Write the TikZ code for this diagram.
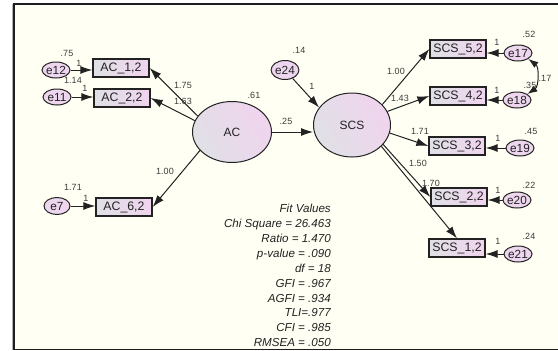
\documentclass[tikz,border=0pt]{standalone}
\usepackage{fontspec}
\setmainfont{Liberation Sans}
\usetikzlibrary{arrows.meta,shapes.geometric}

\definecolor{frameC}{HTML}{1E1E1E}
\definecolor{paper}{HTML}{FFFFF4}
\definecolor{ink}{HTML}{222222}
\definecolor{numC}{HTML}{3C3C3C}
\definecolor{greyF}{HTML}{E0E0E6}
\definecolor{pinkF}{HTML}{F0D4EE}
\definecolor{errF}{HTML}{EDD6EE}

\tikzset{
  obs/.style={draw=ink, line width=1.3pt, minimum width=56pt, minimum height=18pt,
    inner sep=0pt, left color=greyF, right color=pinkF, text=ink,
    font=\fontsize{12.3}{12.3}\selectfont},
  lat/.style={ellipse, draw=ink, line width=1pt, inner sep=0pt,
    bottom color=greyF, top color=pinkF, shading angle=-60, text=ink,
    font=\fontsize{12}{12}\selectfont},
  err/.style={ellipse, draw=ink, line width=1pt, minimum width=28pt,
    minimum height=16pt, inner sep=0pt, fill=errF, text=ink,
    font=\fontsize{11.8}{11.8}\selectfont},
  num/.style={font=\fontsize{9}{9}\selectfont, text=numC, inner sep=0pt},
  reg/.style={draw=ink, line width=1pt, -{Latex[length=12pt,width=8pt]}},
  cov/.style={draw=ink, line width=1pt, {Latex[length=10pt,width=7pt]}-{Latex[length=10pt,width=7pt]}},
}

\begin{document}
\begin{tikzpicture}[x=1pt, y=-1pt]
  \useasboundingbox (0,0) rectangle (558,351);
  \clip (0,0) rectangle (558,351);
  \fill[white] (0,0) rectangle (558,351);
  % output window
  \draw[gray!60, line width=1pt] (12.8,4) -- (12.8,349.5);
  \draw[frameC, line width=1.5pt, fill=paper] (14,4) rectangle (600,349.5);

  % latent variables
  \node[lat, minimum width=79pt, minimum height=61pt] (AC) at (232,132) {AC};
  \node[lat, minimum width=77pt, minimum height=64pt] (SCS) at (352,125) {SCS};

  % observed indicators
  \node[obs] (AC12) at (121,68) {AC\_1,2};
  \node[obs] (AC22) at (122,98) {AC\_2,2};
  \node[obs] (AC62) at (124,207) {AC\_6,2};
  \node[obs] (SCS52) at (458,49) {SCS\_5,2};
  \node[obs] (SCS42) at (458,96) {SCS\_4,2};
  \node[obs] (SCS32) at (457,146) {SCS\_3,2};
  \node[obs] (SCS22) at (459,197) {SCS\_2,2};
  \node[obs] (SCS12) at (457,248) {SCS\_1,2};

  % error terms
  \node[err] (e12) at (56,70) {e12};
  \node[err] (e11) at (57,97) {e11};
  \node[err, minimum width=26pt, minimum height=17pt] (e7) at (57,206) {e7};
  \node[err, minimum width=27pt, minimum height=19pt] (e24) at (285,70) {e24};
  \node[err] (e17) at (518,53) {e17};
  \node[err] (e18) at (517,100) {e18};
  \node[err] (e19) at (520,148) {e19};
  \node[err] (e20) at (517,200) {e20};
  \node[err] (e21) at (518,254) {e21};

  % loadings of AC
  \draw[reg] (AC.155) -- (AC12.east);
  \draw[reg] (AC.163) -- (AC22.east);
  \draw[reg] (AC.210) -- (AC62.east);
  % structural path
  \draw[reg] (AC.east) -- (AC.east -| SCS.west);
  % loadings of SCS
  \draw[reg] (SCS.34) -- (SCS52.west);
  \draw[reg] (SCS.21) -- (SCS42.west);
  \draw[reg] (SCS.-12) -- (SCS32.west);
  \draw[reg] (SCS.-32) -- (SCS22.west);
  \draw[reg] (SCS.-36) -- (SCS12.north);
  % disturbance and errors
  \draw[reg] (e24) -- (SCS.152);
  \draw[reg] (e12.east) -- (e12.east -| AC12.west);
  \draw[reg] (e11.east) -- (e11.east -| AC22.west);
  \draw[reg] (e7.east) -- (e7.east -| AC62.west);
  \draw[reg] (e17.west) -- (e17.west -| SCS52.east);
  \draw[reg] (e18.west) -- (e18.west -| SCS42.east);
  \draw[reg] (e19.west) -- (e19.west -| SCS32.east);
  \draw[reg] (e20.west) -- (e20.west -| SCS22.east);
  \draw[reg] (e21.west) -- (e21.west -| SCS12.east);
  % error covariance
  \draw[cov] (e17.-30) to[bend left=55] (e18.30);

  % estimates
  \node[num] (v12) at (67,53) {.75};
  \node[num] (w12) at (79,63) {1};
  \node[num] (v11) at (73,80) {1.14};
  \node[num] (w11) at (85,88) {1};
  \node[num] (v7) at (73,187) {1.71};
  \node[num] (w7) at (86,198) {1};
  \node[num] (l1) at (183,85) {1.75};
  \node[num] (l2) at (183,101) {1.63};
  \node[num] (l6) at (165,171) {1.00};
  \node[num] (vAC) at (254,95) {.61};
  \node[num] (bAC) at (286,121) {.25};
  \node[num] (v24) at (299,50) {.14};
  \node[num] (w24) at (312,86) {1};
  \node[num] (s5) at (396,71) {1.00};
  \node[num] (s4) at (400,98) {1.43};
  \node[num] (s3) at (420,131) {1.71};
  \node[num] (s2) at (418,163) {1.50};
  \node[num] (s1) at (431,183) {1.70};
  \node[num] (v17) at (529,34) {.52};
  \node[num] (v18) at (530,85) {.35};
  \node[num] (c1718) at (545,78) {.17};
  \node[num] (v19) at (531,131) {.45};
  \node[num] (v20) at (529,185) {.22};
  \node[num] (v21) at (529,236) {.24};
  \node[num] (w17) at (497,42) {1};
  \node[num] (w18) at (497,90) {1};
  \node[num] (w19) at (498,138) {1};
  \node[num] (w20) at (498,190) {1};
  \node[num] (w21) at (498,241) {1};

  % fit summary
  \node[anchor=north east, align=right, inner sep=0pt, text=ink,
        font=\fontsize{11.6}{14.9}\selectfont\itshape] (fit) at (331,204)
    {Fit Values\\Chi Square = 26.463\\Ratio = 1.470\\p-value = .090\\df = 18\\
     GFI = .967\\AGFI = .934\\TLI=.977\\CFI = .985\\RMSEA = .050};
\end{tikzpicture}
\end{document}
